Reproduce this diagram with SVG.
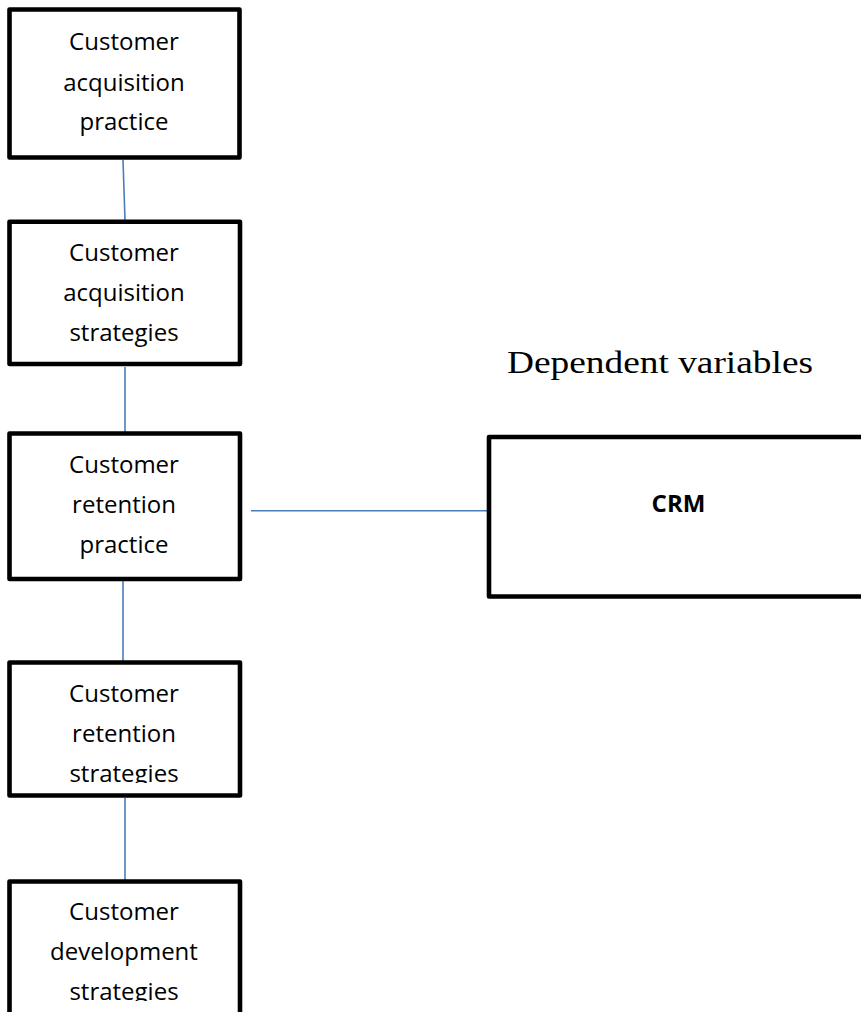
<svg xmlns="http://www.w3.org/2000/svg" width="861" height="1012" viewBox="0 0 861 1012">
<style>
.box{fill:#fff;stroke:#000;stroke-width:4.6;stroke-linejoin:round}
.lbl{font-family:"Open Sans","Liberation Sans",sans-serif;font-size:24px;fill:#000;text-anchor:middle}
.bold{font-weight:bold}
.conn line{stroke:#4a7ebb;stroke-width:1.6}
.title{font-family:"Liberation Serif","Times New Roman",serif;font-size:31px;fill:#000}
</style>
<defs>
<clipPath id="c4"><rect x="0" y="650" width="260" height="133"/></clipPath>
<clipPath id="c5"><rect x="0" y="870" width="260" height="131"/></clipPath>
</defs>
<rect width="861" height="1012" fill="#fff"/>
<g id="connectors" class="conn">
<line x1="123" y1="160" x2="125" y2="220"/>
<line x1="125" y1="367" x2="125" y2="432"/>
<line x1="123" y1="581" x2="123" y2="661"/>
<line x1="125" y1="798" x2="125" y2="880"/>
<line x1="251" y1="510.7" x2="488" y2="510.7"/>
</g>
<g id="n1">
<rect class="box" x="9.5" y="9.5" width="230" height="148"/>
<text class="lbl" x="124" y="50">Customer</text>
<text class="lbl" x="124" y="90.5">acquisition</text>
<text class="lbl" x="124" y="130">practice</text>
</g>
<g id="n2">
<rect class="box" x="9.5" y="221.7" width="230.5" height="142.3"/>
<text class="lbl" x="124" y="260.7">Customer</text>
<text class="lbl" x="124" y="300.7">acquisition</text>
<text class="lbl" x="124" y="341.2">strategies</text>
</g>
<g id="n3">
<rect class="box" x="9.5" y="433.5" width="230.5" height="145.5"/>
<text class="lbl" x="124" y="473.3">Customer</text>
<text class="lbl" x="124" y="513.3">retention</text>
<text class="lbl" x="124" y="553.3">practice</text>
</g>
<g id="n4">
<rect class="box" x="9.5" y="662.5" width="230.5" height="133"/>
<g clip-path="url(#c4)">
<text class="lbl" x="124" y="701.7">Customer</text>
<text class="lbl" x="124" y="741.7">retention</text>
<text class="lbl" x="124" y="781.7">strategies</text>
</g>
</g>
<g id="n5">
<rect class="box" x="9.5" y="881.5" width="230.5" height="160"/>
<g clip-path="url(#c5)">
<text class="lbl" x="124" y="920">Customer</text>
<text class="lbl" x="124" y="960">development</text>
<text class="lbl" x="124" y="1000">strategies</text>
</g>
</g>
<g id="crm">
<rect class="box" x="489" y="437" width="380" height="159.5"/>
<text class="lbl bold" x="678.5" y="512">CRM</text>
</g>
<g id="title">
<text class="title" x="507" y="373" textLength="306" lengthAdjust="spacingAndGlyphs">Dependent variables</text>
</g>
</svg>
